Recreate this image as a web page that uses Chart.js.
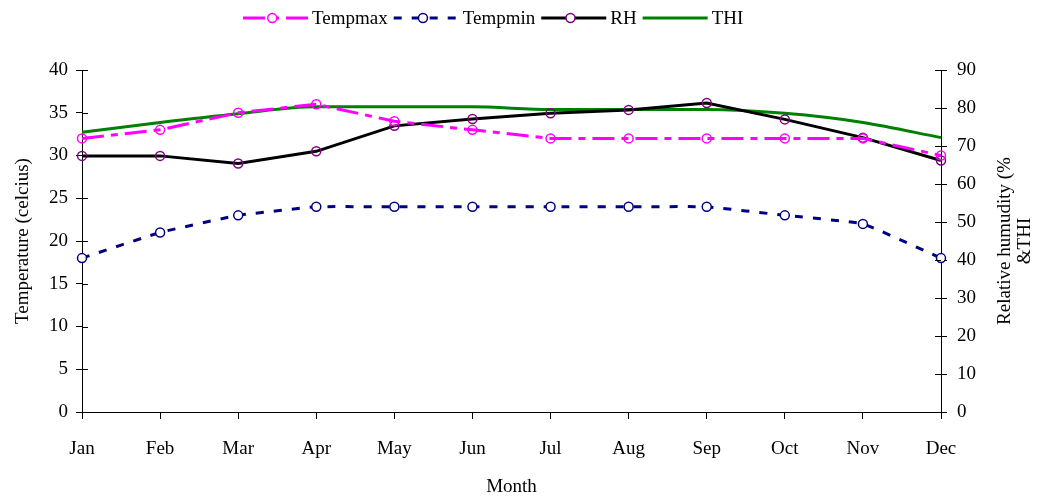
<!DOCTYPE html>
<html>
<head>
<meta charset="utf-8">
<script src="https://cdn.jsdelivr.net/npm/chart.js@4.4.1/dist/chart.umd.min.js"></script>
<style>
  html, body { margin: 0; padding: 0; background: #fff; }
  #wrap { width: 1044px; height: 500px; }
</style>
</head>
<body>
<div id="wrap"><canvas id="chart" width="1044" height="500"></canvas></div>
<script>
// Data
const months = ['Jan', 'Feb', 'Mar', 'Apr', 'May', 'Jun', 'Jul', 'Aug', 'Sep', 'Oct', 'Nov', 'Dec'];
const tempMax = [32, 33, 35, 36, 34, 33, 32, 32, 32, 32, 32, 30];
const tempMin = [18, 21, 23, 24, 24, 24, 24, 24, 24, 23, 22, 18];
const rh = [67.4, 67.4, 65.4, 68.6, 75.3, 77.1, 78.6, 79.5, 81.3, 77.0, 72.2, 66.2];
const thi = [73.6, 76.2, 78.5, 80.3, 80.3, 80.3, 79.6, 79.6, 79.6, 78.6, 76.2, 72.2];

const FONT = '"Liberation Serif", "Times New Roman", serif';
Chart.defaults.font.family = FONT;
Chart.defaults.font.size = 19;
Chart.defaults.color = '#000';

const colors = {
    magenta: '#ff00ff',
    navy: '#000080',
    black: '#000000',
    purple: '#800080',
    green: '#008000'
};

// ticks that cross the axis line (inner half)
const innerTicks = {
    id: 'innerTicks',
    afterDraw(chart) {
        const ctx = chart.ctx;
        const {left, right} = chart.chartArea;
        ctx.save();
        ctx.strokeStyle = '#000';
        ctx.lineWidth = 1;
        ctx.beginPath();
        chart.scales.y.ticks.forEach(t => {
            const y = Math.round(chart.scales.y.getPixelForValue(t.value)) + 0.5;
            ctx.moveTo(left, y); ctx.lineTo(left + 6, y);
        });
        chart.scales.y1.ticks.forEach(t => {
            const y = Math.round(chart.scales.y1.getPixelForValue(t.value)) + 0.5;
            ctx.moveTo(right - 6, y); ctx.lineTo(right, y);
        });
        ctx.stroke();
        ctx.restore();
    }
};

// right title reads bottom-to-top, two lines
const rightTitle = {
    id: 'rightTitle',
    afterDraw(chart) {
        const ctx = chart.ctx;
        const cy = (chart.chartArea.top + chart.chartArea.bottom) / 2;
        ctx.save();
        ctx.font = '19px ' + FONT;
        ctx.fillStyle = '#000';
        ctx.textAlign = 'center';
        ctx.textBaseline = 'middle';
        ctx.translate(1005, cy);
        ctx.rotate(-Math.PI / 2);
        ctx.fillText('Relative humudity (%', 0, 0);
        ctx.fillText('&THI', 0, 20);
        ctx.restore();
    }
};

// legend with line + marker samples
const topLegend = {
    id: 'topLegend',
    afterDraw(chart) {
        const ctx = chart.ctx;
        const y = 18;
        let x = 243;
        ctx.save();
        ctx.font = '19px ' + FONT;
        ctx.textBaseline = 'middle';
        chart.data.datasets.forEach(ds => {
            const len = 65;
            ctx.strokeStyle = ds.borderColor;
            ctx.lineWidth = ds.borderWidth;
            ctx.setLineDash(ds.borderDash || []);
            ctx.beginPath();
            ctx.moveTo(x, y); ctx.lineTo(x + len, y);
            ctx.stroke();
            ctx.setLineDash([]);
            if (ds.pointRadius > 0) {
                ctx.strokeStyle = ds.pointBorderColor;
                ctx.lineWidth = ds.pointBorderWidth;
                ctx.fillStyle = '#fff';
                ctx.beginPath();
                ctx.arc(x + len * 0.45, y, ds.pointRadius, 0, Math.PI * 2);
                ctx.fill();
                ctx.stroke();
            }
            ctx.fillStyle = '#000';
            ctx.fillText(ds.label, x + len + 4, y + 1);
            x += len + 4 + ctx.measureText(ds.label).width + 6;
        });
        ctx.restore();
    }
};

new Chart(document.getElementById('chart').getContext('2d'), {
    type: 'line',
    data: {
        labels: months,
        datasets: [{
            label: 'Tempmax',
            data: tempMax,
            yAxisID: 'y',
            borderColor: colors.magenta,
            borderWidth: 3,
            borderDash: [22, 7, 7, 7],
            pointRadius: 4.5,
            pointBorderColor: colors.magenta,
            pointBorderWidth: 1.5,
            pointBackgroundColor: 'rgba(255,255,255,0)',
            tension: 0
        }, {
            label: 'Tempmin',
            data: tempMin,
            yAxisID: 'y',
            borderColor: colors.navy,
            borderWidth: 3,
            borderDash: [8, 10],
            pointRadius: 4.5,
            pointBorderColor: colors.navy,
            pointBorderWidth: 1.5,
            pointBackgroundColor: '#fff',
            tension: 0.1
        }, {
            label: 'RH',
            data: rh,
            yAxisID: 'y1',
            borderColor: colors.black,
            borderWidth: 3,
            pointRadius: 4.5,
            pointBorderColor: colors.purple,
            pointBorderWidth: 1.5,
            pointBackgroundColor: 'rgba(255,255,255,0)',
            tension: 0
        }, {
            label: 'THI',
            data: thi,
            yAxisID: 'y1',
            borderColor: colors.green,
            borderWidth: 3,
            pointRadius: 0,
            cubicInterpolationMode: 'monotone'
        }]
    },
    options: {
        responsive: false,
        animation: false,
        layout: { padding: { top: 70, left: 0, right: 0, bottom: 0 } },
        plugins: {
            legend: { display: false },
            tooltip: { enabled: false }
        },
        scales: {
            x: {
                offset: false,
                grid: { display: true, drawOnChartArea: false, color: '#000', tickLength: 7 },
                border: { display: true, color: '#000', width: 1 },
                ticks: { padding: 19, maxRotation: 0, autoSkip: false },
                title: { display: true, text: 'Month', padding: { top: 0, bottom: 2 } },
                afterFit: s => { s.height = 88; }
            },
            y: {
                position: 'left',
                min: 0, max: 40,
                grid: { drawOnChartArea: false, color: '#000', tickLength: 6 },
                border: { display: true, color: '#000', width: 1 },
                ticks: { stepSize: 5, padding: 8 },
                title: { display: true, text: 'Temperature (celcius)', padding: { top: 12, bottom: 0 } },
                afterFit: s => { s.width = 82; }
            },
            y1: {
                position: 'right',
                min: 0, max: 90,
                grid: { drawOnChartArea: false, color: '#000', tickLength: 6 },
                border: { display: true, color: '#000', width: 1 },
                ticks: { stepSize: 10, padding: 10 },
                afterFit: s => { s.width = 103; }
            }
        }
    },
    plugins: [innerTicks, rightTitle, topLegend]
});
</script>
</body>
</html>
